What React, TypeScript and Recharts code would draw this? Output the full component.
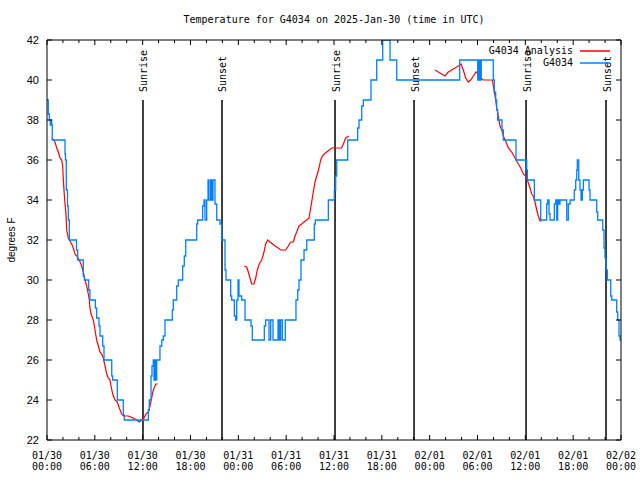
import { LineChart, Line, XAxis, YAxis, ReferenceLine, Legend } from 'recharts';

const MONO = '"DejaVu Sans Mono", monospace';
const SANS = '"Liberation Sans", Arial, sans-serif';

// hours since 2025-01-30 00:00 UTC
const obsHours = [
  0, 0.16, 0.29, 0.41, 0.5, 0.59, 0.66, 2.26, 2.32, 2.42, 2.57, 2.67, 2.8, 3.7, 3.85, 4.55, 4.68, 5.23, 5.39,
  6.06, 6.23, 6.52, 6.65, 6.99, 7.15, 8.12, 8.24, 8.82, 9.57, 9.7, 12.71, 12.83, 13.05, 13.17, 13.33, 13.42,
  13.55, 13.64, 13.76, 14.17, 14.39, 14.59, 14.8, 15.72, 15.84, 16.27, 16.47, 17.02, 17.22, 17.4, 18.78, 18.9,
  19.53, 19.69, 19.82, 20.03, 20.2, 20.32, 20.53, 20.66, 20.82, 21.07, 21.29, 21.7, 21.91, 22.33, 22.45, 23.04,
  23.17, 23.5, 23.67, 23.8, 23.96, 24.08, 24.42, 24.84, 25.59, 25.75, 27.26, 27.43, 27.85, 28.06, 28.35, 28.98,
  29.14, 29.31, 29.52, 29.89, 31.23, 31.45, 31.61, 31.86, 32.24, 32.58, 33.53, 33.66, 35.29, 36.04, 36.21,
  36.34, 37.72, 38.97, 39.14, 39.48, 39.68, 40.64, 41.36, 42.11, 43.03, 43.87, 51.77, 54.03, 54.19, 54.31,
  54.47, 55.98, 56.11, 56.28, 56.41, 56.53, 57.07, 57.24, 58.83, 60.17, 60.25, 61.13, 61.93, 62.68, 62.81,
  62.97, 63.1, 63.64, 63.81, 63.94, 64.06, 64.22, 64.35, 65.19, 65.39, 65.61, 66.14, 66.32, 66.45, 66.52,
  66.7, 66.86, 66.99, 67.15, 67.28, 67.99, 68.11, 68.95, 69.08, 69.71, 69.87, 69.99, 70.12, 70.28, 70.71,
  70.84, 71.46, 71.59, 71.75, 71.88, 72,
];
const obsTemps = [
  39, 38.3, 38, 37.75, 38, 37.75, 37, 36.3, 36, 34.5, 33.7, 33, 32, 31.5, 31, 30.2, 30, 29.5, 29,
  28.6, 28.1, 27.7, 27.2, 26.7, 26, 25.2, 25, 24, 23.25, 23, 23.5, 24, 25.2, 25.7, 26, 25,
  26, 25, 26, 26.7, 27, 27.2, 28, 28.5, 29, 29.7, 30, 30.7, 31.2, 32, 32.8, 33,
  33.7, 34, 33, 34, 35, 34, 35, 34, 35, 33.8, 33, 32.8, 32, 30.5, 30, 29.2,
  29, 28.2, 28, 29, 30, 29.2, 29, 28, 27.7, 27, 27.7, 28, 27, 28, 27, 28,
  27, 28, 27, 28, 29, 29.5, 30, 31, 31.5, 32, 32.8, 33, 34, 34.5, 35.2,
  36, 37, 37.6, 38, 38.7, 39, 40, 41, 42, 41, 40, 41, 40, 41, 40,
  41, 40, 39.4, 39, 38.5, 38, 37.5, 37, 36, 35.5, 35, 34, 33, 33.8, 34,
  33.3, 33, 33.8, 34, 33, 34, 33.8, 34, 33, 33.8, 34, 34.5, 35, 35.5, 36,
  35, 34.5, 34, 34.5, 35, 34.5, 34, 33.4, 33, 32.5, 31.6, 31.1, 30.5, 30, 29.2,
  29, 28.4, 28, 27.2, 27, 27,
];

// analysis series, null marks a gap
const anaHours = [
  0.66, 1.0, 1.22, 1.42, 1.63, 1.84, 1.97, 2.04, 2.13, 2.26, 2.38, 2.47, 2.67, 3.1, 3.3, 3.51, 3.73, 4.05,
  4.35, 4.55, 4.77, 4.98, 5.18, 5.31, 5.39, 5.52, 5.81, 6.02, 6.23, 6.44, 6.65, 6.86, 7.06, 7.28, 7.49,
  7.69, 7.9, 8.03, 8.24, 8.53, 8.82, 9.07, 9.37, 9.57, 10.2, 10.83, 11.25, 11.58, 11.88, 12.17, 12.42,
  12.71, 12.92, 13.13, 13.33, 13.55, 13.64, 13.89, 14.5,
  24.75, 25.05, 25.25, 25.46, 25.68, 25.97, 26.18, 26.38, 26.63, 26.93, 27.22, 27.43, 27.68, 27.97, 28.31,
  28.6, 29.01, 29.31, 29.64, 29.94, 30.27, 30.57, 30.9, 31.11, 31.32, 31.61, 31.95, 32.24, 32.58, 32.87,
  32.99, 33.2, 33.4, 33.62, 33.91, 34.12, 34.33, 34.53, 34.78, 35.09, 35.41, 35.71, 36.13, 36.97, 37.17,
  37.47, 37.88, 38.5,
  48.67, 49.08, 49.51, 49.92, 50.34, 50.76, 51.18, 51.59, 51.93, 52.22, 52.52, 52.85, 53.15, 53.48, 53.81,
  54.1, 54.4, 54.73, 55.16, 55.57, 55.86, 56.07, 56.2, 56.41, 56.61, 56.82, 57.04, 57.24, 57.58, 57.87,
  58.29, 58.71, 59.12, 59.42, 59.75, 60.05, 60.25, 60.59, 60.8, 61.0, 61.21, 61.43, 61.63, 61.84, 62.05,
];
const anaTemps = [
  37.1, 36.9, 36.6, 36.4, 36.1, 36.0, 35.7, 35.1, 34.5, 33.8, 33.3, 32.5, 32.1, 31.8, 31.6, 31.3, 31.2, 31.0,
  30.7, 30.4, 30.0, 29.7, 29.3, 29.0, 28.6, 28.3, 28.0, 27.5, 27.0, 26.7, 26.4, 26.3, 26.1, 25.7, 25.3,
  25.1, 25.0, 24.7, 24.3, 24.0, 23.9, 23.6, 23.3, 23.2, 23.2, 23.1, 23.0, 22.9, 23.0, 23.1, 23.3,
  23.4, 23.7, 24.1, 24.5, 24.7, 24.8, 24.8, null,
  30.7, 30.65, 30.4, 30.1, 29.8, 29.8, 30.1, 30.5, 30.8, 31.0, 31.4, 31.8, 32.0, 31.9, 31.8,
  31.7, 31.6, 31.5, 31.5, 31.5, 31.7, 31.9, 31.9, 32.2, 32.4, 32.7, 32.8, 32.9, 33.0, 33.1,
  33.4, 33.9, 34.4, 34.9, 35.3, 35.6, 36.0, 36.2, 36.3, 36.4, 36.5, 36.6, 36.6, 36.6, 36.8,
  37.1, 37.2, null,
  40.5, 40.4, 40.3, 40.2, 40.4, 40.5, 40.6, 40.7, 40.8, 40.5, 40.1, 39.9, 40.0, 40.2, 40.4,
  40.3, 40.1, 40.0, 40.0, 40.0, 40.0, 39.5, 39.2, 38.6, 38.2, 37.7, 37.5, 37.2, 36.9, 36.6,
  36.4, 36.1, 35.8, 35.6, 35.3, 35.2, 35.0, 34.6, 34.3, 34.2, 33.9, 33.5, 33.2, 32.95, 32.95,
];

const eventHours = [12.04, 21.95, 36.13, 46.04, 60.09, 70.12];
const eventNames = ['Sunrise', 'Sunset', 'Sunrise', 'Sunset', 'Sunrise', 'Sunset'];

const legendOrder = ['G4034 Analysis', 'G4034'];

const xTicks = [0, 2, 4, 6, 8, 10, 12, 14, 16, 18, 20, 22, 24, 26, 28, 30, 32, 34, 36, 38, 40, 42, 44, 46, 48, 50, 52, 54, 56, 58, 60, 62, 64, 66, 68, 70, 72];
const labelHours = [0, 6, 12, 18, 24, 30, 36, 42, 48, 54, 60, 66, 72];
const labelDates = ['01/30', '01/30', '01/30', '01/30', '01/31', '01/31', '01/31', '01/31', '02/01', '02/01', '02/01', '02/01', '02/02'];
const labelTimes = ['00:00', '06:00', '12:00', '18:00', '00:00', '06:00', '12:00', '18:00', '00:00', '06:00', '12:00', '18:00', '00:00'];
const yTicks = [22, 24, 26, 28, 30, 32, 34, 36, 38, 40, 42];

const obsData = obsHours.map((h, i) => ({ h, temp: obsTemps[i] }));
const anaData = anaHours.map((h, i) => ({ h, temp: anaTemps[i] }));

function BottomTick({ x, y, payload }: any) {
  const i = labelHours.indexOf(payload.value);
  const len = i >= 0 ? 5 : 3;
  return (
    <g>
      <line x1={x} y1={y} x2={x} y2={y - len} stroke="#000" />
      {i >= 0 && (
        <text x={x} textAnchor="middle" fontFamily={MONO} fontSize={10} fill="#000">
          <tspan x={x} y={y + 18.5}>{labelDates[i]}</tspan>
          <tspan x={x} y={y + 30}>{labelTimes[i]}</tspan>
        </text>
      )}
    </g>
  );
}

function TopTick({ x, y, payload }: any) {
  const len = labelHours.indexOf(payload.value) >= 0 ? 5 : 3;
  return <line x1={x} y1={y} x2={x} y2={y + len} stroke="#000" />;
}

function LeftTick({ x, y, payload }: any) {
  return (
    <g>
      <line x1={x} y1={y} x2={x + 5} y2={y} stroke="#000" />
      <text x={x - 8} y={y} dy="0.35em" textAnchor="end" fontFamily={SANS} fontSize={11} fill="#000">
        {payload.value}
      </text>
    </g>
  );
}

function RightTick({ x, y }: any) {
  return <line x1={x} y1={y} x2={x - 5} y2={y} stroke="#000" />;
}

function EventLabel({ viewBox, text }: any) {
  const vb = viewBox || { x: 0, y: 0 };
  const tx = vb.x + 4.5;
  const ty = vb.y - 8;
  return (
    <text x={tx} y={ty} transform={`rotate(-90 ${tx} ${ty})`} fontFamily={MONO} fontSize={10} fill="#000">
      {text}
    </text>
  );
}

function YLabel() {
  return (
    <text x={11} y={240} transform="rotate(-90 11 240)" dy="0.35em" textAnchor="middle" fontFamily={SANS} fontSize={10} fill="#000">
      degrees F
    </text>
  );
}

function LegendBox({ payload }: any) {
  const items = [...(payload || [])].sort(
    (a: any, b: any) => legendOrder.indexOf(a.value) - legendOrder.indexOf(b.value)
  );
  return (
    <div style={{ fontFamily: MONO, fontSize: 10, color: '#000' }}>
      {items.map((p: any) => (
        <div key={p.value} style={{ display: 'flex', justifyContent: 'flex-end', alignItems: 'center', height: 12 }}>
          <span style={{ lineHeight: '12px', whiteSpace: 'pre' }}>{p.value}</span>
          <svg width={30} height={12} style={{ marginLeft: 7, display: 'block' }}>
            <line x1={0} y1={6} x2={30} y2={6} stroke={p.color} strokeWidth={1.5} />
          </svg>
        </div>
      ))}
    </div>
  );
}

export default function App() {
  return (
    <div style={{ position: 'absolute', left: 0, top: 0, width: 640, height: 480, background: '#fff' }}>
      <div
        style={{
          position: 'absolute', top: 13.5, left: 47, width: 574, textAlign: 'center',
          fontFamily: MONO, fontSize: 10, lineHeight: '12px', color: '#000', whiteSpace: 'pre',
        }}
      >
        Temperature for G4034 on 2025-Jan-30 (time in UTC)
      </div>
      <LineChart width={640} height={480} margin={{ top: 0, right: 0, bottom: 0, left: 0 }}>
        <XAxis
          dataKey="h" type="number" domain={[0, 72]} ticks={xTicks} allowDataOverflow
          height={40} tickSize={0} tickMargin={0} tick={<BottomTick />} tickLine={false}
          axisLine={{ stroke: '#000' }} interval={0}
        />
        <XAxis
          xAxisId="top" orientation="top" dataKey="h" type="number" domain={[0, 72]} ticks={xTicks}
          allowDataOverflow height={40} tickSize={0} tickMargin={0} tick={<TopTick />} tickLine={false}
          axisLine={{ stroke: '#000' }} interval={0}
        />
        <YAxis
          type="number" domain={[22, 42]} ticks={yTicks} allowDataOverflow width={47}
          tickSize={0} tickMargin={0} tick={<LeftTick />} tickLine={false} axisLine={{ stroke: '#000' }}
          interval={0} label={<YLabel />}
        />
        <YAxis
          yAxisId="right" orientation="right" type="number" domain={[22, 42]} ticks={yTicks}
          allowDataOverflow width={19} tickSize={0} tickMargin={0} tick={<RightTick />} tickLine={false}
          axisLine={{ stroke: '#000' }} interval={0}
        />
        {eventHours.map((h, i) => (
          <ReferenceLine
            key={h}
            segment={[{ x: h, y: 22 }, { x: h, y: 39 }]}
            stroke="#000"
            strokeWidth={1.5}
            label={<EventLabel text={eventNames[i]} />}
          />
        ))}
        <Legend
          layout="vertical" align="center" verticalAlign="middle" content={<LegendBox />}
          wrapperStyle={{ position: 'absolute', top: 44.5, left: 460, width: 150, height: 24 }}
        />
        <Line
          data={anaData} dataKey="temp" name="G4034 Analysis" type="linear" stroke="#ff0000"
          strokeWidth={1.2} dot={false} activeDot={false} connectNulls={false} isAnimationActive={false}
        />
        <Line
          data={obsData} dataKey="temp" name="G4034" type="stepAfter" stroke="#0080ff"
          strokeWidth={1.3} dot={false} activeDot={false} isAnimationActive={false}
        />
      </LineChart>
    </div>
  );
}
